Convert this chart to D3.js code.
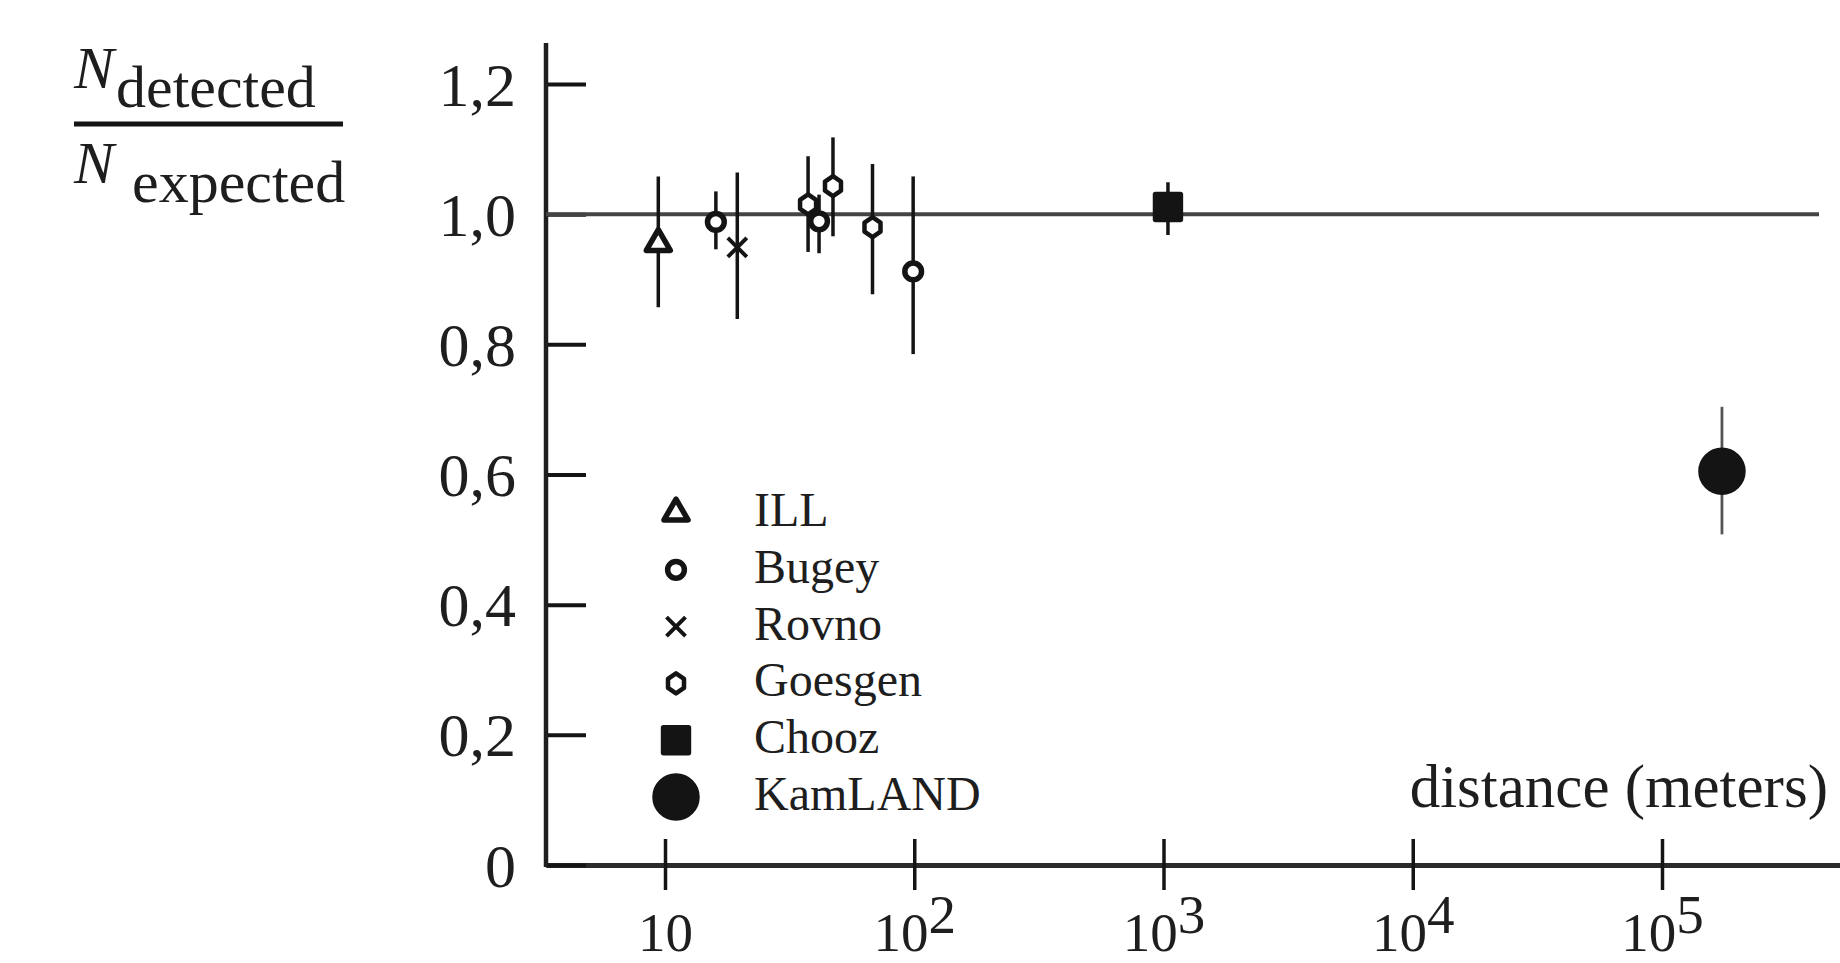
<!DOCTYPE html>
<html lang="en">

<head>
  <meta charset="UTF-8" />
  <title>Reactor neutrinos</title>
  <script src="https://d3js.org/d3.v7.min.js"></script>
  <style>
    * {
      margin: 0;
      padding: 0;
      box-sizing: border-box;
    }

    body {
      background: #fff;
      overflow: hidden;
    }

    svg text {
      font-family: "Liberation Serif", "Times New Roman", serif;
      fill: #1e1e1e;
    }
  </style>
</head>

<body>
  <script>
    // data
    const experiments = ['ILL', 'Bugey', 'Rovno', 'Goesgen', 'Bugey', 'Goesgen', 'Goesgen', 'Bugey', 'Chooz', 'KamLAND'];
    const distances = [9.4, 16.0, 19.5, 37.5, 41.5, 47.2, 68, 99, 1042, 174000];
    const ratios = [0.955, 0.988, 0.949, 1.015, 0.989, 1.043, 0.980, 0.912, 1.011, 0.605];
    const lower = [0.857, 0.946, 0.839, 0.942, 0.940, 0.966, 0.877, 0.785, 0.968, 0.508];
    const upper = [1.058, 1.035, 1.064, 1.089, 1.030, 1.118, 1.077, 1.058, 1.049, 0.704];
    const legendNames = ['ILL', 'Bugey', 'Rovno', 'Goesgen', 'Chooz', 'KamLAND'];
    const yTicks = [0, 0.2, 0.4, 0.6, 0.8, 1.0, 1.2];
    const xTicks = [10, 100, 1000, 10000, 100000];
    const expected = 1.0;
    const yTop = 1.263;

    const points = distances.map((d, i) => ({
      name: experiments[i], dist: d, r: ratios[i], lo: lower[i], hi: upper[i]
    }));

    //constants
    const [w, h] = [1840, 963];
    const axisX = 546;
    const ink = '#141414';

    const svg = d3.select('body').append('svg')
      .attr('width', w)
      .attr('height', h);

    //scales
    const x = d3.scaleLog().domain([10, 1e5]).range([665, 1662]);
    x.domain([x.invert(axisX), x.invert(w)]).range([axisX, w]);
    const y = d3.scaleLinear().domain([0, 1.2]).range([865, 84]);

    //markers
    const markerPath = name => {
      if (name === 'ILL') return d3.symbol(d3.symbolTriangle, 250)();
      if (name === 'Bugey') return d3.symbol(d3.symbolCircle, 220)();
      if (name === 'Chooz') return d3.symbol(d3.symbolSquare, 620)();
      if (name === 'KamLAND') return d3.symbol(d3.symbolCircle, Math.PI * 21 * 21)();
      if (name === 'Rovno') {
        const a = 9.5;
        return `M${-a},${-a}L${a},${a}M${-a},${a}L${a},${-a}`;
      }
      // Goesgen: rounded diamond
      const r = 10, k = 0.8;
      return `M0,${-r}L${r * k},${-r * 0.45}L${r * k},${r * 0.45}L0,${r}L${-r * k},${r * 0.45}L${-r * k},${-r * 0.45}Z`;
    };
    const drawMarker = (sel) => {
      sel.append('path')
        .attr('d', d => markerPath(d.name))
        .attr('fill', d => (d.name === 'Chooz' || d.name === 'KamLAND') ? ink : '#fff')
        .attr('stroke', ink)
        .attr('stroke-width', d => d.name === 'Rovno' ? 4 : (d.name === 'Goesgen' ? 4.5 : 5.5))
        .attr('stroke-linejoin', 'round');
    };

    //x axis
    const xAxis = d3.axisBottom(x)
      .tickValues(xTicks)
      .tickSize(25)
      .tickSizeOuter(0)
      .tickFormat('');
    const gx = svg.append('g')
      .attr('transform', `translate(0, ${y(0)})`)
      .call(xAxis);
    gx.select('.domain').attr('stroke', '#2a2a2a').attr('stroke-width', 5);
    gx.selectAll('.tick line').attr('y1', -26).attr('stroke', ink).attr('stroke-width', 3.5);
    gx.selectAll('.tick').append('text')
      .attr('y', 86)
      .attr('text-anchor', 'middle')
      .style('font-size', '55px')
      .each(function (d) {
        const t = d3.select(this);
        const e = Math.round(Math.log10(d));
        t.append('tspan').text('10');
        if (e > 1) t.append('tspan').attr('dy', -18).text(e);
      });

    //y axis
    const yAxis = d3.axisLeft(y)
      .tickValues(yTicks)
      .tickSize(-40)
      .tickPadding(30)
      .tickSizeOuter(0)
      .tickFormat(d => d === 0 ? '0' : d3.format('.1f')(d).replace('.', ','));
    const gy = svg.append('g')
      .attr('transform', `translate(${axisX}, 0)`)
      .call(yAxis);
    gy.select('.domain').remove();
    gy.selectAll('.tick line').attr('stroke', ink).attr('stroke-width', 4);
    gy.selectAll('.tick text')
      .attr('dy', '0.34em')
      .style('font-size', '62px')
      .style('fill', '#1e1e1e');
    gy.append('line')
      .attr('y1', y(yTop))
      .attr('y2', y(0) + 2)
      .attr('stroke', '#1e1e1e')
      .attr('stroke-width', 4.5);

    //expected line
    svg.append('line')
      .attr('x1', axisX)
      .attr('x2', 1819)
      .attr('y1', y(expected))
      .attr('y2', y(expected))
      .attr('stroke', '#444')
      .attr('stroke-width', 4);

    //error bars
    svg.append('g')
      .selectAll('line')
      .data(points)
      .join('line')
      .attr('x1', d => x(d.dist))
      .attr('x2', d => x(d.dist))
      .attr('y1', d => y(d.hi))
      .attr('y2', d => y(d.lo))
      .attr('stroke', d => d.name === 'KamLAND' ? '#555' : ink)
      .attr('stroke-width', d => d.name === 'KamLAND' ? 2.8 : 3.5);

    //points
    svg.append('g')
      .selectAll('g')
      .data(points)
      .join('g')
      .attr('transform', d => `translate(${x(d.dist)}, ${y(d.r)})`)
      .call(drawMarker);

    //legend
    const ly = d3.scalePoint().domain(legendNames).range([513, 797]);
    const legend = svg.append('g')
      .selectAll('g')
      .data(legendNames.map(n => ({ name: n })))
      .join('g')
      .attr('transform', d => `translate(676, ${ly(d.name)})`);
    legend.call(drawMarker);
    legend.append('text')
      .attr('x', 78)
      .attr('y', 13)
      .style('font-size', '48px')
      .text(d => d.name);

    //axis titles
    svg.append('text')
      .attr('x', 1828)
      .attr('y', 807)
      .attr('text-anchor', 'end')
      .style('font-size', '61px')
      .text('distance (meters)');

    const frac = svg.append('g');
    const num = frac.append('text').attr('x', 74).attr('y', 88).style('font-size', '60px');
    num.append('tspan').style('font-style', 'italic').text('N');
    num.append('tspan').attr('x', 116).attr('dy', 19).text('detected');
    frac.append('line')
      .attr('x1', 74).attr('x2', 343)
      .attr('y1', 124).attr('y2', 124)
      .attr('stroke', ink)
      .attr('stroke-width', 5);
    const den = frac.append('text').attr('x', 74).attr('y', 183).style('font-size', '60px');
    den.append('tspan').style('font-style', 'italic').text('N');
    den.append('tspan').attr('x', 132).attr('dy', 19).text('expected');
  </script>
</body>

</html>
